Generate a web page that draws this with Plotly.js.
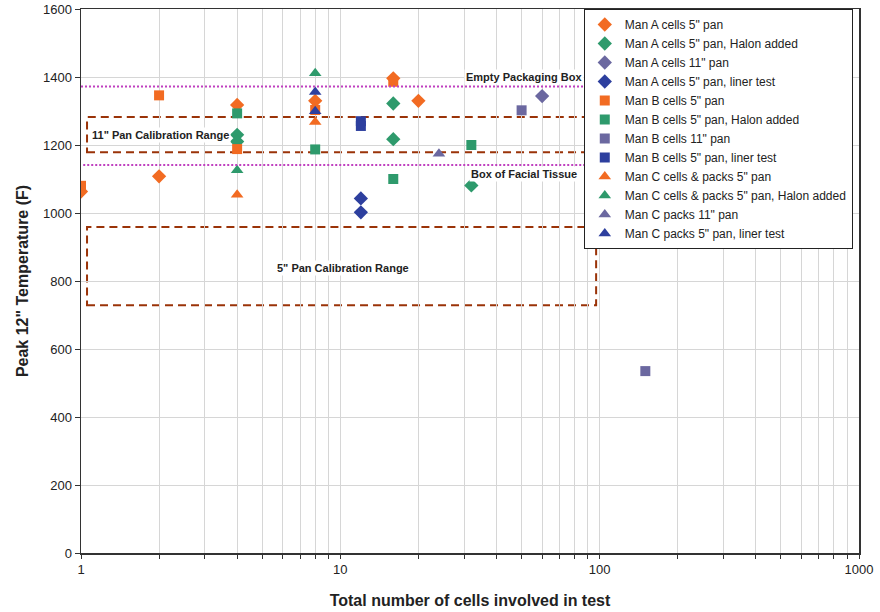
<!DOCTYPE html>
<html>
<head>
<meta charset="utf-8">
<script src="https://cdn.plot.ly/plotly-3.0.1.min.js"></script>
<style>html,body{margin:0;padding:0;background:#fff;}#chart{width:880px;height:612px;}</style>
</head>
<body>
<div id="chart"></div>
<script>
// ---- Data ----
const manA5_x = [1, 2, 4, 8, 16, 20];
const manA5_y = [1063, 1108, 1318, 1330, 1396, 1330];
const manA5H_x = [4, 4, 16, 16, 32];
const manA5H_y = [1230, 1210, 1322, 1217, 1081];
const manA11_x = [60];
const manA11_y = [1344];
const manA5L_x = [12, 12];
const manA5L_y = [1043, 1002];

const manB5_x = [1, 2, 4, 8, 16];
const manB5_y = [1080, 1346, 1188, 1303, 1386];
const manB5H_x = [4, 8, 16, 32];
const manB5H_y = [1293, 1187, 1100, 1200];
const manB11_x = [50, 150];
const manB11_y = [1302, 535];
const manB5L_x = [12, 12];
const manB5L_y = [1270, 1256];

const manC5_x = [4, 8];
const manC5_y = [1054, 1268];
const manC5H_x = [4, 8];
const manC5H_y = [1126, 1411];
const manC11_x = [24];
const manC11_y = [1174];
const manC5L_x = [8, 8];
const manC5L_y = [1356, 1299];

// reference lines / ranges
const emptyBoxTemp = 1372;
const tissueBoxTemp = 1141;
const refLineX = [1.0, 95];
const pan11Range = [1179, 1282];
const pan5Range = [729, 959];
const rangeBoxX = [1.055, 95];

const xTickLabels = ['1', '10', '100', '1000'];
const yTickVals = [0, 200, 400, 600, 800, 1000, 1200, 1400, 1600];

// ---- Styles ----
const orange = '#F26B22', green = '#2E9A6C', purple = '#6B68A0', blue = '#2D3F9E';

function tr(name, x, y, color, symbol, size) {
  return {type: 'scatter', mode: 'markers', name: name, x: x, y: y,
    marker: {color: color, symbol: symbol, size: size, line: {width: 0}}};
}

const traces = [
  tr('Man A cells 5" pan', manA5_x, manA5_y, orange, 'diamond', 11),
  tr('Man A cells 5" pan, Halon added', manA5H_x, manA5H_y, green, 'diamond', 11),
  tr('Man A cells 11" pan', manA11_x, manA11_y, purple, 'diamond', 11),
  tr('Man A cells 5" pan, liner test', manA5L_x, manA5L_y, blue, 'diamond', 11),
  tr('Man B cells 5" pan', manB5_x, manB5_y, orange, 'square', 10),
  tr('Man B cells 5" pan, Halon added', manB5H_x, manB5H_y, green, 'square', 10),
  tr('Man B cells 11" pan', manB11_x, manB11_y, purple, 'square', 10),
  tr('Man B cells 5" pan, liner test', manB5L_x, manB5L_y, blue, 'square', 10),
  tr('Man C cells & packs 5" pan', manC5_x, manC5_y, orange, 'triangle-up', 11),
  tr('Man C cells & packs 5" pan, Halon added', manC5H_x, manC5H_y, green, 'triangle-up', 11),
  tr('Man C packs 11" pan', manC11_x, manC11_y, purple, 'triangle-up', 11),
  tr('Man C packs 5" pan, liner test', manC5L_x, manC5L_y, blue, 'triangle-up', 11)
];

// x ticks: all 1..9 per decade, labels only on decades
const xTickVals = [], xTickText = [];
for (let d = 0; d < 3; d++) {
  for (let k = 1; k <= 9; k++) {
    const v = k * Math.pow(10, d);
    xTickVals.push(v);
    xTickText.push(k === 1 ? xTickLabels[d] : '');
  }
}
xTickVals.push(1000); xTickText.push(xTickLabels[3]);

const L = Math.log10;
const dotLine = {color: '#C040C0', width: 2, dash: '2px,2px'};
const dashLine = {color: '#9A3308', width: 2, dash: '8px,5px'};

// shapes on a log axis take data values in Plotly v3
const shapes = [
  {type: 'line', xref: 'x', yref: 'y', x0: refLineX[0], x1: refLineX[1], y0: emptyBoxTemp, y1: emptyBoxTemp, line: dotLine, layer: 'above'},
  {type: 'line', xref: 'x', yref: 'y', x0: refLineX[0] * 1.02, x1: refLineX[1], y0: tissueBoxTemp, y1: tissueBoxTemp, line: dotLine, layer: 'above'},
  {type: 'rect', xref: 'x', yref: 'y', x0: rangeBoxX[0], x1: rangeBoxX[1], y0: pan11Range[0], y1: pan11Range[1], line: dashLine, fillcolor: 'rgba(0,0,0,0)', layer: 'below'},
  {type: 'rect', xref: 'x', yref: 'y', x0: rangeBoxX[0], x1: rangeBoxX[1] * 1.02, y0: pan5Range[0], y1: pan5Range[1], line: dashLine, fillcolor: 'rgba(0,0,0,0)', layer: 'below'}
];

const annFont = {family: 'Liberation Sans, Arial, sans-serif', size: 11, color: '#222'};
function ann(text, x, y, xanchor) {
  return {text: '<b>' + text + '</b>', xref: 'x', yref: 'y', x: L(x), y: y, showarrow: false,
    font: annFont, bgcolor: '#fff', xanchor: xanchor || 'center', yanchor: 'middle', borderpad: 1};
}
const annotations = [
  ann('Empty Packaging Box', 51, 1400),
  ann('Box of Facial Tissue', 51, 1114),
  ann('11" Pan Calibration Range', 1.08, 1229, 'left'),
  ann('5" Pan Calibration Range', 10.2, 838)
];

const layout = {
  width: 880, height: 612,
  margin: {l: 81, r: 21, t: 9, b: 59},
  paper_bgcolor: '#fff', plot_bgcolor: '#fff',
  font: {family: 'Liberation Sans, Arial, sans-serif', size: 13, color: '#222'},
  showlegend: true,
  legend: {x: 0.992, xanchor: 'right', y: 1, yanchor: 'top', bgcolor: '#fff',
    bordercolor: '#222', borderwidth: 1, font: {size: 12, color: '#222'},
    itemwidth: 30, tracegroupgap: 0},
  xaxis: {
    type: 'log', range: [0, 3],
    tickmode: 'array', tickvals: xTickVals, ticktext: xTickText,
    ticks: 'outside', ticklen: 4, tickcolor: '#333',
    showgrid: true, gridcolor: '#d6d6d6', gridwidth: 1,
    showline: true, linecolor: '#333', linewidth: 1.5, mirror: true,
    zeroline: false,
    tickfont: {size: 13},
    title: {text: '<b>Total number of cells involved in test</b>', font: {size: 16}, standoff: 18}
  },
  yaxis: {
    range: [0, 1600], tickmode: 'array', tickvals: yTickVals,
    ticks: 'outside', ticklen: 5, tickcolor: '#333',
    showgrid: true, gridcolor: '#d6d6d6', gridwidth: 1,
    showline: true, linecolor: '#333', linewidth: 1.5, mirror: true,
    zeroline: false,
    tickfont: {size: 13},
    title: {text: '<b>Peak 12" Temperature (F)</b>', font: {size: 16}, standoff: 10}
  },
  shapes: shapes,
  annotations: annotations
};

Plotly.newPlot('chart', traces, layout, {displayModeBar: false, staticPlot: true});
</script>
</body>
</html>
